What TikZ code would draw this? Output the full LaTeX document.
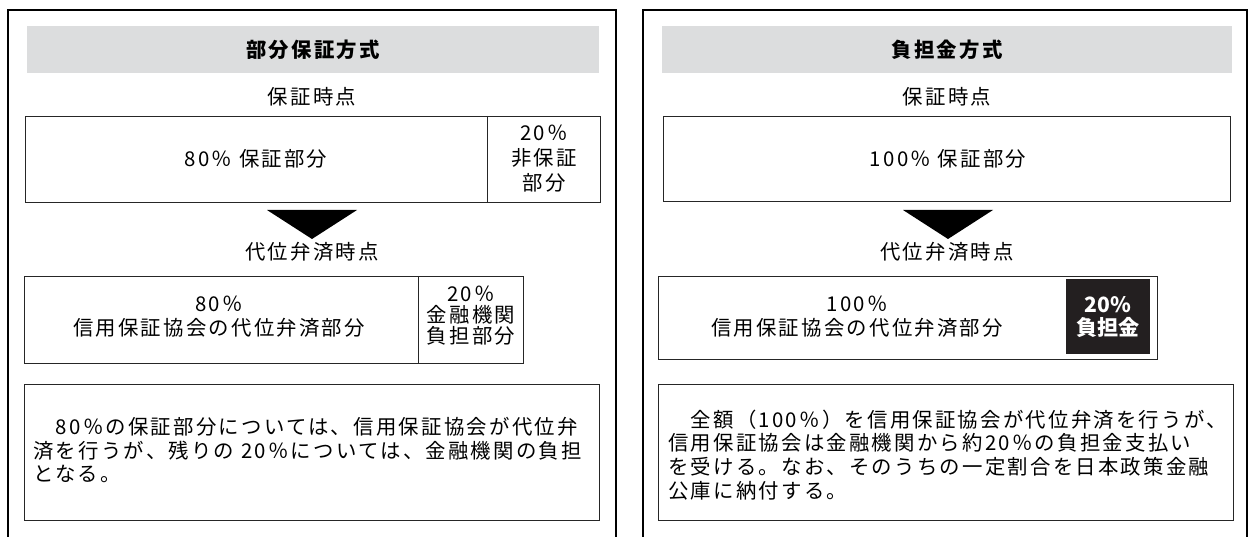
\documentclass[tikz,border=0pt]{standalone}
\usepackage{fontspec}
\setmainfont{Noto Sans CJK JP}[LetterSpace=11]
\newfontfamily\tightfont{Noto Sans CJK JP}
\definecolor{barfill}{HTML}{DCDDDE}
\definecolor{ink}{HTML}{231F20}
\tikzset{
  frameline/.style={line width=1.4pt},
  cell/.style={draw=black!85, line width=0.7pt},
  txt/.style={inner sep=0pt, align=center, font=\fontsize{14.5}{17}\selectfont},
  head/.style={txt, font=\fontsize{14.5}{16}\selectfont\bfseries},
}
\begin{document}
\begin{tikzpicture}[x=0.025cm, y=-0.025cm]
  \useasboundingbox (0,0) rectangle (1249,537);
  \foreach \l/\r in {8/616,643/1247}
    \draw[frameline] (\l,537) |- (\r,10) -- (\r,537);
  \foreach \cx in {312,948}
    \fill (\cx-45,210) -- (\cx+45,210) -- (\cx,239) -- cycle;
  % left: partial guarantee
  \fill[barfill] (27,26) rectangle (599,73);
  \node[head] (lhead) at (313,50) {部分保証方式};
  \node[txt] (ltime) at (312,97) {保証時点};
  \draw[cell] (25,116) rectangle (600,202) (487,116) -- (487,202);
  \node[txt] (lguar) at (256,159) {80％ 保証部分};
  \node[txt, font=\fontsize{14.5}{17.8}\selectfont] (lnon) at (544,159) {20％\\非保証\\部分};
  \node[txt] (lsub) at (312,252) {代位弁済時点};
  \draw[cell] (24,276) rectangle (523,363) (418,276) -- (418,363);
  \node[txt] (lpay) at (219,317) {80％\\信用保証協会の代位弁済部分};
  \node[txt, font=\fontsize{14.5}{15}\selectfont] (lbank) at (471,316) {20％\\金融機関\\負担部分};
  \draw[cell] (24,384) rectangle (599,520);
  \node[txt, anchor=west, align=left] (lnote) at (33,450)
    {　80％の保証部分については、信用保証協会が代位弁\\済を行うが、残りの 20％については、金融機関の負担\\となる。};
  % right: contribution
  \fill[barfill] (662,26) rectangle (1232,73);
  \node[head] (rhead) at (947,50) {負担金方式};
  \node[txt] (rtime) at (947,97) {保証時点};
  \draw[cell] (663,116) rectangle (1230,201);
  \node[txt] (rguar) at (948,159) {100％ 保証部分};
  \node[txt] (rsub) at (947,252) {代位弁済時点};
  \draw[cell] (658,276) rectangle (1157,359);
  \fill[ink] (1066,279) rectangle (1150,354);
  \node[txt] (rpay) at (857,317) {100％\\信用保証協会の代位弁済部分};
  \node[txt, text=white, font=\fontsize{15}{16.5}\selectfont\tightfont\bfseries] (rshare) at (1108,317) {20\%\\負担金};
  \draw[cell] (658,384) rectangle (1233,520);
  \node[txt, anchor=west, align=left] (rnote) at (668,455)
    {　全額（100％）を信用保証協会が代位弁済を行うが、\\信用保証協会は金融機関から約20％の負担金支払い\\を受ける。なお、そのうちの一定割合を日本政策金融\\公庫に納付する。};
\end{tikzpicture}
\end{document}
